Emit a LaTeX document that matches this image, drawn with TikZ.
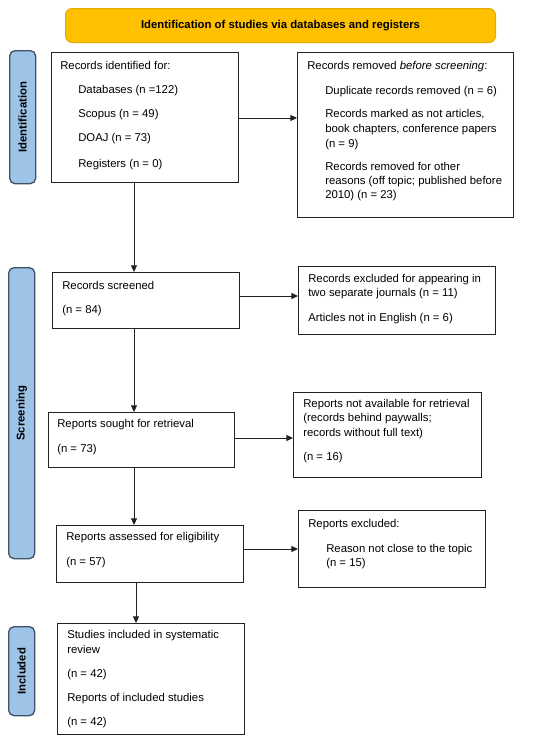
\documentclass[tikz,border=0pt]{standalone}
\usepackage{fontspec}
\setmainfont{Liberation Sans}
\usetikzlibrary{arrows.meta}
\definecolor{gold}{HTML}{FFC000}
\definecolor{goldedge}{HTML}{E3AC00}
\definecolor{sideblue}{HTML}{9DC3E6}
\definecolor{sideedge}{HTML}{3E5366}
\definecolor{boxedge}{HTML}{222222}
\begin{document}
\begin{tikzpicture}[x=0.75pt,y=-0.75pt,
  box/.style={draw=boxedge, line width=0.8pt, fill=white, inner sep=0pt, anchor=north west},
  bx/.style 2 args={minimum width=#1*0.75pt, minimum height=#2*0.75pt},
  txt/.style={anchor=base west, inner sep=0pt, font=\fontsize{8.5}{10}\selectfont},
  side/.style={draw=sideedge, fill=sideblue, rounded corners=4pt, line width=1pt, inner sep=0pt, anchor=north west},
  sidetxt/.style={rotate=90, inner sep=0pt, font=\fontsize{8.5}{10}\selectfont\bfseries},
  arr/.style={-{Triangle[length=5pt,width=4.5pt]}, line width=0.75pt, draw=boxedge}]
\useasboundingbox (0,0) rectangle (550,743);
\fill[white] (0,0) rectangle (550,743);

% header
\node[draw=goldedge, fill=gold, rounded corners=5pt, line width=0.8pt, inner sep=0pt, anchor=north west, bx={430}{34}] (hdr) at (65,8) {};
\node[inner sep=0pt, font=\fontsize{8.5}{10}\selectfont\bfseries] (hdrt) at (hdr.center) {Identification of studies via databases and registers};

% side labels
\node[side, bx={26}{133}] (sid) at (9,50) {};
\node[sidetxt] (sidt) at (sid.center) {Identification};
\node[side, bx={26}{291}] (ssc) at (8,267) {};
\node[sidetxt] (ssct) at (ssc.center) {Screening};
\node[side, bx={26}{89}] (sin) at (8,626) {};
\node[sidetxt] (sint) at (sin.center) {Included};

% boxes
\node[box, bx={187}{130}] (b1) at (51,52) {};
\node[box, bx={216}{165}] (rem) at (297,52) {};
\node[box, bx={187}{56}] (scr) at (52,272) {};
\node[box, bx={197}{68}] (exc) at (298,266) {};
\node[box, bx={186}{55}] (sou) at (48,412) {};
\node[box, bx={188}{85}] (nav) at (293,392) {};
\node[box, bx={187}{57}] (ass) at (56,525) {};
\node[box, bx={187}{77}] (ex2) at (298,510) {};
\node[box, bx={187}{111}] (inc) at (57,623) {};

% texts: identification
\node[txt] (b1a) at (60,69) {Records identified for:};
\node[txt] (b1b) at (78,93) {Databases (n =122)};
\node[txt] (b1c) at (78,117) {Scopus (n = 49)};
\node[txt] (b1d) at (78,141) {DOAJ (n = 73)};
\node[txt] (b1e) at (78,167) {Registers (n = 0)};

\node[txt] (rema) at (307,69) {Records removed \textit{before screening}:};
\node[txt] (remb) at (325,94) {Duplicate records removed (n = 6)};
\node[txt] (remc) at (325,117) {Records marked as not articles,};
\node[txt] (remd) at (325,132) {book chapters, conference papers};
\node[txt] (reme) at (325,147) {(n = 9)};
\node[txt] (remf) at (325,170) {Records removed for other};
\node[txt] (remg) at (325,184) {reasons (off topic; published before};
\node[txt] (remh) at (325,198) {2010) (n = 23)};

% screening
\node[txt] (scra) at (62,289) {Records screened};
\node[txt] (scrb) at (62,313) {(n = 84)};

\node[txt] (exca) at (308,282) {Records excluded for appearing in};
\node[txt] (excb) at (308,296) {two separate journals (n = 11)};
\node[txt] (excc) at (308,321) {Articles not in English (n = 6)};

\node[txt] (soua) at (57,427) {Reports sought for retrieval};
\node[txt] (soub) at (57,452) {(n = 73)};

\node[txt] (nava) at (303,407) {Reports not available for retrieval};
\node[txt] (navb) at (303,421) {(records behind paywalls;};
\node[txt] (navc) at (303,436) {records without full text)};
\node[txt] (navd) at (303,460) {(n = 16)};

\node[txt] (assa) at (66,540) {Reports assessed for eligibility};
\node[txt] (assb) at (66,565) {(n = 57)};

\node[txt] (ex2a) at (308,527) {Reports excluded:};
\node[txt] (ex2b) at (326,552) {Reason not close to the topic};
\node[txt] (ex2c) at (326,566) {(n = 15)};

% included
\node[txt] (inca) at (67,638) {Studies included in systematic};
\node[txt] (incb) at (67,653) {review};
\node[txt] (incc) at (67,677) {(n = 42)};
\node[txt] (incd) at (67,701) {Reports of included studies};
\node[txt] (ince) at (67,725) {(n = 42)};

% connector guides
\coordinate (v1) at (134,0);
\coordinate (v2) at (136,0);
\coordinate (h1) at (0,118);
\coordinate (h2) at (0,296);
\coordinate (h3) at (0,438);
\coordinate (h4) at (0,549);

% vertical arrows
\draw[arr] (b1.south -| v1) -- (scr.north -| v1);
\draw[arr] (scr.south -| v1) -- (sou.north -| v1);
\draw[arr] (sou.south -| v1) -- (ass.north -| v1);
\draw[arr] (ass.south -| v2) -- (inc.north -| v2);

% horizontal arrows
\draw[arr] (b1.east |- h1) -- (rem.west |- h1);
\draw[arr] (scr.east |- h2) -- (exc.west |- h2);
\draw[arr] (sou.east |- h3) -- (nav.west |- h3);
\draw[arr] (ass.east |- h4) -- (ex2.west |- h4);
\end{tikzpicture}
\end{document}
